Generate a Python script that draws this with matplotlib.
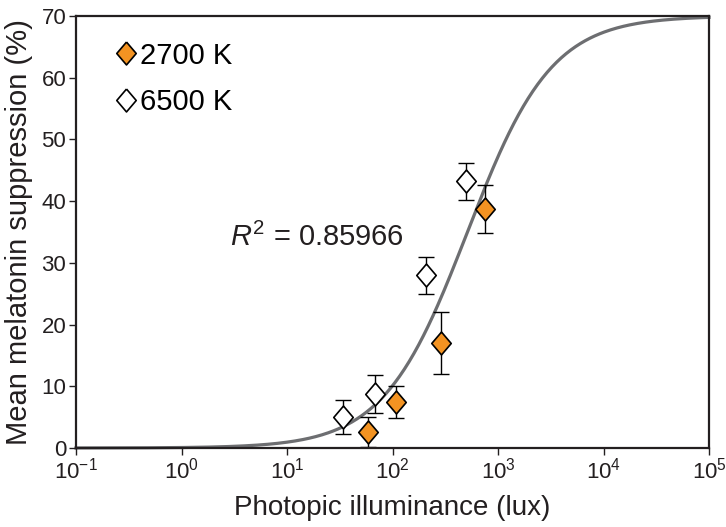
import numpy as np
import matplotlib
matplotlib.use("Agg")
import matplotlib.pyplot as plt
from matplotlib.ticker import LogLocator, NullLocator

plt.rcParams['font.family'] = ['Liberation Sans', 'DejaVu Sans']
plt.rcParams['mathtext.fontset'] = 'custom'
plt.rcParams['mathtext.rm'] = 'Liberation Sans'
plt.rcParams['mathtext.it'] = 'Liberation Sans:italic'
plt.rcParams['axes.unicode_minus'] = False

# data
lux_2700 = [58, 108, 289, 754]
sup_2700 = [2.6, 7.5, 17.0, 38.7]
err_2700 = [2.5, 2.6, 5.0, 3.9]

lux_6500 = [34, 68, 208, 498]
sup_6500 = [5.0, 8.7, 28.0, 43.2]
err_6500 = [2.7, 3.1, 3.0, 3.0]

# fitted logistic (log-lux) model
fit_top = 70.0
fit_log_ec50 = 2.71
fit_slope = 1.09
r2_text = '0.85966'

orange = '#F39322'
ink = '#231F20'
diamond = [(0, 1), (0.85, 0), (0, -1), (-0.85, 0), (0, 1)]

W, H = 726, 527
fig = plt.figure(figsize=(W / 100, H / 100), dpi=100)
ax = fig.add_axes([76 / W, 1 - 448 / H, 633 / W, 432 / H])

xx = np.logspace(-1, 5, 400)
yy = fit_top / (1 + 10 ** (fit_slope * (fit_log_ec50 - np.log10(xx))))
ax.plot(xx, yy, color='#6D6E71', lw=2.3, zorder=1, clip_on=False)

ax.errorbar(lux_6500, sup_6500, yerr=err_6500, fmt='none', ecolor='black',
            elinewidth=1, capsize=6, capthick=1, zorder=2)
ax.errorbar(lux_2700, sup_2700, yerr=err_2700, fmt='none', ecolor='black',
            elinewidth=1, capsize=6, capthick=1, zorder=2)
ax.plot(lux_6500, sup_6500, linestyle='none', marker=diamond, markersize=16.5,
        markerfacecolor='white', markeredgecolor='black', markeredgewidth=1.2,
        zorder=3, label='6500 K')
ax.plot(lux_2700, sup_2700, linestyle='none', marker=diamond, markersize=16.5,
        markerfacecolor=orange, markeredgecolor='black', markeredgewidth=1.2,
        zorder=3, label='2700 K')

ax.set_xscale('log')
ax.set_xlim(0.1, 1e5)
ax.set_ylim(0, 70)
ax.xaxis.set_major_locator(LogLocator(base=10, numticks=10))
ax.xaxis.set_minor_locator(NullLocator())
ax.set_yticks(range(0, 71, 10))

for s in ax.spines.values():
    s.set_linewidth(1.6)
    s.set_color(ink)
ax.tick_params(direction='out', length=5, width=1, labelsize=16, colors=ink, pad=2)

ax.set_xlabel('Photopic illuminance (lux)', fontsize=20, color=ink, labelpad=8)
ax.set_ylabel('Mean melatonin suppression (%)', fontsize=21, color=ink, labelpad=6)

fig.text(230 / W, 1 - 237 / H, r'$\mathit{R}^{\mathrm{2}}$ = ' + r2_text,
         fontsize=21, color=ink, va='center', ha='left')

handles, labels = ax.get_legend_handles_labels()
ax.legend(handles[::-1], labels[::-1], loc='upper left', frameon=False,
          fontsize=21, handlelength=0.7, handletextpad=0.15, labelspacing=0.62,
          borderaxespad=0.0, bbox_to_anchor=(104 / W, 1 - 30 / H),
          bbox_transform=fig.transFigure)

fig.savefig('out.png', dpi=100)
